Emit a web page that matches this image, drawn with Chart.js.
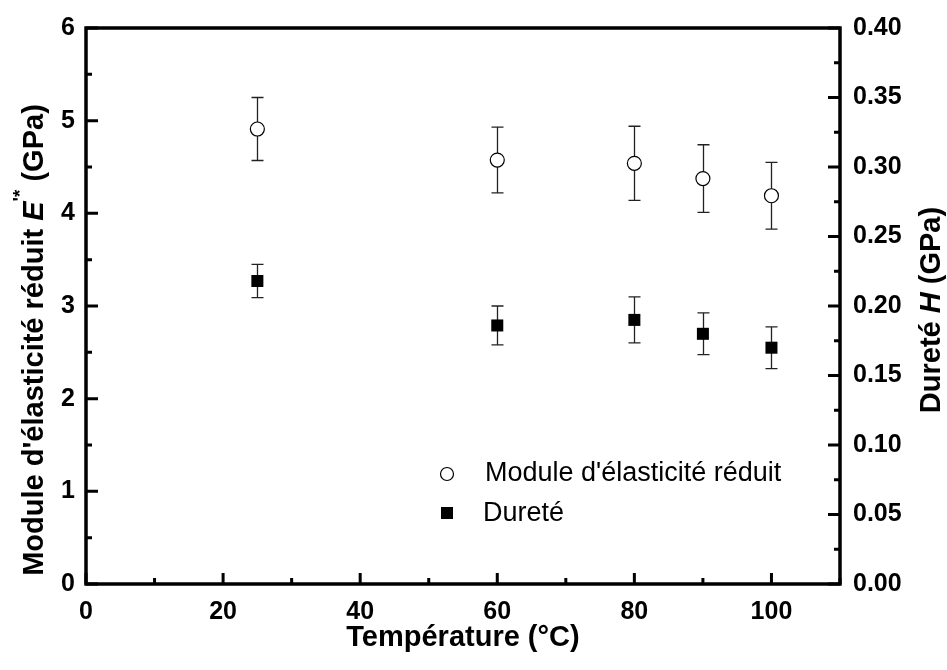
<!DOCTYPE html>
<html>
<head>
<meta charset="utf-8">
<title>Module et dureté</title>
<script src="https://cdn.jsdelivr.net/npm/chart.js@4/dist/chart.umd.min.js"></script>
<style>
  html, body { margin: 0; padding: 0; background: #fff; }
  #wrap { width: 947px; height: 670px; }
</style>
</head>
<body>
<div id="wrap"><canvas id="graphe" width="947" height="670"></canvas></div>
<script>
// données
const temperatures = [25, 60, 80, 90, 100];
const moduleE = [4.91, 4.575, 4.54, 4.375, 4.19];
const moduleErr = [0.34, 0.355, 0.40, 0.365, 0.36];
const durete = [0.218, 0.186, 0.190, 0.180, 0.170];
const dureteErr = [0.012, 0.014, 0.0166, 0.015, 0.015];

const xTicks = [0, 20, 40, 60, 80, 100];
const xMinor = [10, 30, 50, 70, 90, 110];
const yTicks = [0, 1, 2, 3, 4, 5, 6];
const yMinor = [0.5, 1.5, 2.5, 3.5, 4.5, 5.5];
const y2Ticks = [0, 0.05, 0.10, 0.15, 0.20, 0.25, 0.30, 0.35, 0.40];
const y2Minor = [0.025, 0.075, 0.125, 0.175, 0.225, 0.275, 0.325, 0.375];

const police = 'Liberation Sans, Arial, Helvetica, sans-serif';
const tickFont = { family: police, weight: 'bold', size: 25 };

// barres d'erreur, axes, légende, titres
const decor = {
  id: 'decor',
  beforeDatasetsDraw(chart) {
    const ctx = chart.ctx;
    const xs = chart.scales.x;
    const series = [
      { vals: moduleE, errs: moduleErr, sc: chart.scales.y },
      { vals: durete, errs: dureteErr, sc: chart.scales.y2 }
    ];
    ctx.save();
    ctx.strokeStyle = '#222';
    ctx.lineWidth = 1.3;
    series.forEach(s => {
      temperatures.forEach((t, i) => {
        const px = Math.round(xs.getPixelForValue(t)) + 0.5;
        const top = s.sc.getPixelForValue(s.vals[i] + s.errs[i]);
        const bot = s.sc.getPixelForValue(s.vals[i] - s.errs[i]);
        ctx.beginPath();
        ctx.moveTo(px, top); ctx.lineTo(px, bot);
        ctx.moveTo(px - 6, top); ctx.lineTo(px + 6, top);
        ctx.moveTo(px - 6, bot); ctx.lineTo(px + 6, bot);
        ctx.stroke();
      });
    });
    ctx.restore();
  },
  afterDraw(chart) {
    const ctx = chart.ctx;
    const a = chart.chartArea;
    const xs = chart.scales.x, ys = chart.scales.y, y2 = chart.scales.y2;
    ctx.save();
    ctx.strokeStyle = '#000';
    ctx.lineWidth = 3.5;
    ctx.strokeRect(a.left, a.top, a.right - a.left, a.bottom - a.top);

    ctx.lineWidth = 3;
    ctx.beginPath();
    xTicks.forEach(v => { const p = xs.getPixelForValue(v); ctx.moveTo(p, a.bottom); ctx.lineTo(p, a.bottom - 11); });
    xMinor.forEach(v => { const p = xs.getPixelForValue(v); ctx.moveTo(p, a.bottom); ctx.lineTo(p, a.bottom - 6); });
    yTicks.forEach(v => { const p = ys.getPixelForValue(v); ctx.moveTo(a.left, p); ctx.lineTo(a.left + 12, p); });
    yMinor.forEach(v => { const p = ys.getPixelForValue(v); ctx.moveTo(a.left, p); ctx.lineTo(a.left + 6, p); });
    y2Ticks.forEach(v => { const p = y2.getPixelForValue(v); ctx.moveTo(a.right, p); ctx.lineTo(a.right - 12, p); });
    y2Minor.forEach(v => { const p = y2.getPixelForValue(v); ctx.moveTo(a.right, p); ctx.lineTo(a.right - 6, p); });
    ctx.stroke();

    // légende
    ctx.lineWidth = 1.2;
    ctx.fillStyle = '#fff';
    ctx.beginPath(); ctx.arc(447, 474, 6.5, 0, Math.PI * 2); ctx.fill(); ctx.stroke();
    ctx.fillStyle = '#000';
    ctx.fillRect(441, 507, 12, 12);
    ctx.font = '27px ' + police;
    ctx.textBaseline = 'middle';
    ctx.textAlign = 'left';
    ctx.fillText("Module d'élasticité réduit", 485, 474);
    ctx.fillText('Dureté', 483, 514);

    // titres d'axes
    ctx.font = 'bold 29px ' + police;
    ctx.textAlign = 'center';
    ctx.fillText('Température (°C)', (a.left + a.right) / 2, 638);

    const b = 'bold 29px ' + police, bi = 'italic bold 29px ' + police, sup = 'bold 19px ' + police;
    titreVertical(ctx, 35, 340, [
      { t: "Module d'élasticité réduit ", f: b, dy: 0 },
      { t: 'E', f: bi, dy: 0 },
      { t: "'*", f: sup, dy: -14 },
      { t: ' (GPa)', f: b, dy: 0 }
    ]);
    titreVertical(ctx, 932, 310, [
      { t: 'Dureté ', f: b, dy: 0 },
      { t: 'H', f: bi, dy: 0 },
      { t: ' (GPa)', f: b, dy: 0 }
    ]);
    ctx.restore();
  }
};

function titreVertical(ctx, cx, cy, parts) {
  ctx.save();
  ctx.translate(cx, cy);
  ctx.rotate(-Math.PI / 2);
  ctx.textBaseline = 'middle';
  ctx.textAlign = 'left';
  let total = 0;
  parts.forEach(p => { ctx.font = p.f; total += ctx.measureText(p.t).width; });
  let x = -total / 2;
  parts.forEach(p => {
    ctx.font = p.f;
    ctx.fillText(p.t, x, p.dy);
    x += ctx.measureText(p.t).width;
  });
  ctx.restore();
}

const ctx = document.getElementById('graphe').getContext('2d');
new Chart(ctx, {
  type: 'scatter',
  data: {
    datasets: [{
      label: "Module d'élasticité réduit",
      data: temperatures.map((t, i) => ({ x: t, y: moduleE[i] })),
      yAxisID: 'y',
      pointStyle: 'circle',
      pointRadius: 7,
      pointHoverRadius: 7,
      backgroundColor: '#fff',
      borderColor: '#000',
      borderWidth: 1.2
    }, {
      label: 'Dureté',
      data: temperatures.map((t, i) => ({ x: t, y: durete[i] })),
      yAxisID: 'y2',
      pointStyle: 'rect',
      pointRadius: 8.5,
      pointHoverRadius: 8.5,
      backgroundColor: '#000',
      borderColor: '#000',
      borderWidth: 0
    }]
  },
  options: {
    responsive: false,
    animation: false,
    layout: { padding: { top: 26, left: 0, right: 0, bottom: 0 } },
    plugins: { legend: { display: false }, tooltip: { enabled: false } },
    scales: {
      x: {
        type: 'linear', min: 0, max: 110,
        afterBuildTicks: s => { s.ticks = xTicks.map(v => ({ value: v })); },
        afterFit: s => { s.height = 86; },
        grid: { display: false, drawTicks: false },
        border: { display: false },
        ticks: { font: tickFont, color: '#000', padding: 13, maxRotation: 0 }
      },
      y: {
        position: 'left', min: 0, max: 6,
        afterBuildTicks: s => { s.ticks = yTicks.map(v => ({ value: v })); },
        afterFit: s => { s.width = 86; },
        grid: { display: false, drawTicks: false },
        border: { display: false },
        ticks: { font: tickFont, color: '#000', padding: 11 }
      },
      y2: {
        position: 'right', min: 0, max: 0.4,
        afterBuildTicks: s => { s.ticks = y2Ticks.map(v => ({ value: v })); },
        afterFit: s => { s.width = 107; },
        grid: { display: false, drawTicks: false },
        border: { display: false },
        ticks: { font: tickFont, color: '#000', padding: 13, callback: v => v.toFixed(2) }
      }
    }
  },
  plugins: [decor]
});
</script>
</body>
</html>
